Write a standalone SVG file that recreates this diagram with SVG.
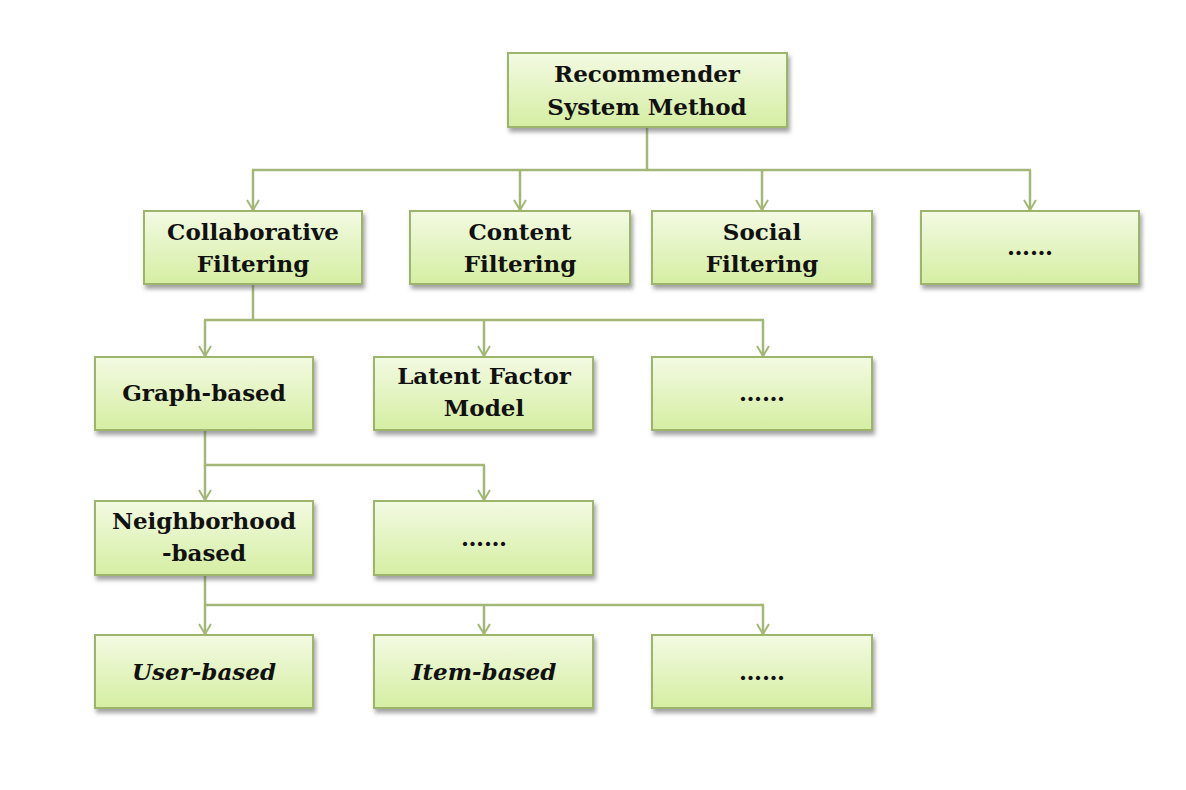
<svg xmlns="http://www.w3.org/2000/svg" width="1186" height="790" viewBox="0 0 1186 790">
<defs>
<linearGradient id="g" x1="0" y1="0" x2="0" y2="1">
<stop offset="0" stop-color="#f3fae3"/>
<stop offset="1" stop-color="#d5eea2"/>
</linearGradient>
<filter id="sh" x="-10%" y="-20%" width="130%" height="150%">
<feDropShadow dx="2" dy="4" stdDeviation="2.2" flood-color="#555" flood-opacity="0.55"/>
</filter>
<marker id="arr" markerUnits="userSpaceOnUse" markerWidth="14" markerHeight="16" refX="12" refY="8" orient="auto" viewBox="0 0 14 16">
<path d="M2,2 L12,8 L2,14" fill="none" stroke="#a3b877" stroke-width="2"/>
</marker>
</defs>
<style>
.box{fill:url(#g);stroke:#9db56b;stroke-width:2;filter:url(#sh)}
.t{font-family:"DejaVu Serif","Liberation Serif",serif;font-weight:bold;font-size:23px;fill:#111;text-anchor:middle}
.i{font-style:italic}
.c{fill:none;stroke:#a3b877;stroke-width:2.5}
.d{fill:none;stroke:#a3b877;stroke-width:2.5;marker-end:url(#arr)}
</style>
<rect width="1186" height="790" fill="#ffffff"/>
<g id="connectors">
<path class="c" d="M647,127 V170 M252,170 H1031"/>
<path class="d" d="M253,170 V210"/>
<path class="d" d="M520,170 V210"/>
<path class="d" d="M762,170 V210"/>
<path class="d" d="M1030,170 V210"/>
<path class="c" d="M253,285 V320 M204,320 H764"/>
<path class="d" d="M205,320 V356"/>
<path class="d" d="M484,320 V356"/>
<path class="d" d="M763,320 V356"/>
<path class="c" d="M205,430 V465 H485"/>
<path class="d" d="M205,465 V500"/>
<path class="d" d="M484,465 V500"/>
<path class="c" d="M205,575 V605 H764"/>
<path class="d" d="M205,605 V634"/>
<path class="d" d="M484,605 V634"/>
<path class="d" d="M763,605 V634"/>
</g>
<g id="root"><rect class="box" x="508" y="53" width="279" height="74"/><text class="t" x="647" y="82">Recommender</text><text class="t" x="647" y="115">System Method</text></g>
<g id="collab"><rect class="box" x="144" y="211" width="218" height="73"/><text class="t" x="253" y="240">Collaborative</text><text class="t" x="253" y="272">Filtering</text></g>
<g id="content"><rect class="box" x="410" y="211" width="220" height="73"/><text class="t" x="520" y="240">Content</text><text class="t" x="520" y="272">Filtering</text></g>
<g id="social"><rect class="box" x="652" y="211" width="220" height="73"/><text class="t" x="762" y="240">Social</text><text class="t" x="762" y="272">Filtering</text></g>
<g id="more1"><rect class="box" x="921" y="211" width="218" height="73"/><text class="t" x="1030" y="255">……</text></g>
<g id="graph"><rect class="box" x="95" y="357" width="218" height="73"/><text class="t" x="204" y="401">Graph-based</text></g>
<g id="latent"><rect class="box" x="374" y="357" width="219" height="73"/><text class="t" x="484" y="384">Latent Factor</text><text class="t" x="484" y="416">Model</text></g>
<g id="more2"><rect class="box" x="652" y="357" width="220" height="73"/><text class="t" x="762" y="401">……</text></g>
<g id="neigh"><rect class="box" x="95" y="501" width="218" height="74"/><text class="t" x="204" y="529">Neighborhood</text><text class="t" x="204" y="561">-based</text></g>
<g id="more3"><rect class="box" x="374" y="501" width="219" height="74"/><text class="t" x="484" y="546">……</text></g>
<g id="user"><rect class="box" x="95" y="635" width="218" height="73"/><text class="t i" x="204" y="680">User-based</text></g>
<g id="item"><rect class="box" x="374" y="635" width="219" height="73"/><text class="t i" x="484" y="680">Item-based</text></g>
<g id="more4"><rect class="box" x="652" y="635" width="220" height="73"/><text class="t" x="762" y="680">……</text></g>
</svg>
